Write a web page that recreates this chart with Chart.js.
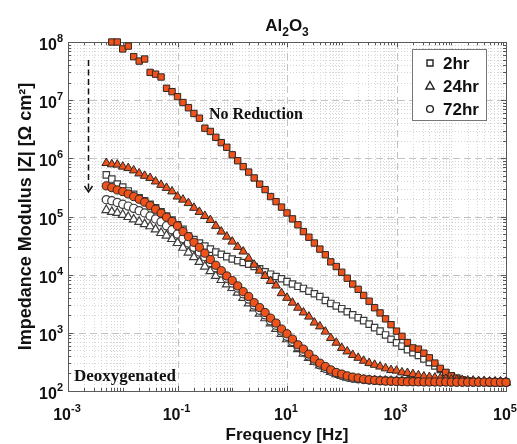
<!DOCTYPE html>
<html>
<head>
<meta charset="utf-8">
<script src="https://cdn.jsdelivr.net/npm/chart.js@4.4.0/dist/chart.umd.min.js"></script>
<style>
  html, body { margin: 0; padding: 0; background: #fff; }
  #wrap { width: 517px; height: 444px; }
</style>
</head>
<body>
<div id="wrap"><canvas id="eis" width="517" height="444"></canvas></div>
<script>
// Frequency sweep [Hz], 10 points per decade
const freqHz = [
  0.005012, 0.00631, 0.007943,
  0.01, 0.01259, 0.01585, 0.01995, 0.02512, 0.03162, 0.03981, 0.05012, 0.0631, 0.07943,
  0.1, 0.1259, 0.1585, 0.1995, 0.2512, 0.3162, 0.3981, 0.5012, 0.631, 0.7943,
  1, 1.259, 1.585, 1.995, 2.512, 3.162, 3.981, 5.012, 6.31, 7.943,
  10, 12.59, 15.85, 19.95, 25.12, 31.62, 39.81, 50.12, 63.1, 79.43,
  100, 125.9, 158.5, 199.5, 251.2, 316.2, 398.1, 501.2, 631, 794.3,
  1000, 1259, 1585, 1995, 2512, 3162, 3981, 5012, 6310, 7943,
  10000, 12590, 15850, 19950, 25120, 31620, 39810, 50120, 63100, 79430,
  100000
];

// |Z| [Ohm cm2] - No Reduction (filled orange)
const noRed2hr = [
  null, 1.0e8, 1.0e8, 7.6e7, 8.5e7, 5.6e7, 4.7e7, 5.1e7, 3.0e7, 2.8e7,
  2.5e7, 1.6e7, 1.4e7, 1.15e7, 9.1e6, 7.4e6, 5.9e6, 4.9e6, 3.3e6, 2.9e6,
  2.3e6, 1.86e6, 1.55e6, 1.15e6, 9.1e5, 7.2e5, 5.8e5, 4.6e5, 3.6e5, 2.9e5,
  2.2e5, 1.8e5, 1.45e5, 1.15e5, 9.1e4, 7.2e4, 5.5e4, 4.4e4, 3.5e4, 2.75e4,
  2.2e4, 1.66e4, 1.38e4, 1.1e4, 8.7e3, 6.9e3, 5.6e3, 4.4e3, 3.5e3, 2.7e3,
  2.2e3, 1.74e3, 1.38e3, 1.07e3, 870, 680, 550, 525, 447, 372,
  302, 245, 209, 182, 166, 155, 148, 145, 141, 141,
  140, 140, 140, 140
];
const noRed24hr = [
  8.3e5, 7.9e5, 7.8e5, 7.2e5, 6.8e5, 6.2e5, 5.5e5, 5.0e5, 4.6e5, 4.0e5,
  3.5e5, 3.1e5, 2.7e5, 2.2e5, 1.95e5, 1.7e5, 1.41e5, 1.2e5, 1.02e5, 8.7e4,
  6.9e4, 5.5e4, 4.5e4, 3.7e4, 3.0e4, 2.5e4, 1.9e4, 1.48e4, 1.17e4, 9.5e3,
  7.8e3, 6.5e3, 4.8e3, 4.0e3, 3.3e3, 2.7e3, 2.24e3, 1.9e3, 1.5e3, 1.29e3,
  1.05e3, 813, 676, 550, 479, 417, 372, 331, 302, 282,
  263, 245, 229, 224, 209, 204, 195, 186, 178, 174,
  170, 166, 162, 158, 155, 155, 151, 151, 148, 148,
  145, 145, 145, 141
];
const noRed72hr = [
  3.36e5, 3.14e5, 2.86e5, 2.68e5, 2.44e5, 2.2e5, 1.98e5, 1.76e5, 1.54e5, 1.33e5,
  1.14e5, 9.7e4, 8.2e4, 6.9e4, 5.5e4, 4.5e4, 3.6e4, 2.95e4, 2.34e4, 1.82e4,
  1.45e4, 1.17e4, 9.5e3, 7.9e3, 6.4e3, 5.1e3, 4.2e3, 3.3e3, 2.72e3, 2.23e3,
  1.79e3, 1.47e3, 1.16e3, 962, 780, 622, 525, 430, 353, 301,
  264, 231, 208, 195, 182, 173, 167, 160, 156, 153,
  150, 148, 147, 146, 145, 144, 144, 144, 143, 143,
  143, 143, 143, 142, 142, 142, 142, 142, 142, 142,
  142, 141, 141, 141
];

// |Z| [Ohm cm2] - Deoxygenated (open markers)
const deox2hr = [
  5.2e5, 4.4e5, 3.6e5, 3.2e5, 2.75e5, 2.4e5, 2.1e5, 1.86e5, 1.62e5, 1.41e5,
  1.2e5, 1.02e5, 8.7e4, 7.2e4, 6.0e4, 4.6e4, 4.0e4, 3.5e4, 3.1e4, 2.75e4,
  2.45e4, 2.24e4, 2.04e4, 1.86e4, 1.74e4, 1.62e4, 1.51e4, 1.38e4, 1.26e4, 1.12e4,
  1.02e4, 9.3e3, 8.5e3, 7.6e3, 6.9e3, 6.3e3, 5.8e3, 5.2e3, 4.7e3, 4.2e3,
  3.6e3, 3.2e3, 2.9e3, 2.6e3, 2.3e3, 2.04e3, 1.82e3, 1.62e3, 1.41e3, 1.23e3,
  1.07e3, 920, 776, 676, 589, 513, 457, 407, 355, 309,
  269, 234, 204, 182, 166, 155, 148, 145, 143, 141,
  141, 141, 141, 141
];
const deox24hr = [
  1.29e5, 1.2e5, 1.15e5, 1.07e5, 9.8e4, 8.9e4, 8.1e4, 7.4e4, 6.8e4, 6.0e4,
  5.2e4, 4.7e4, 4.1e4, 3.5e4, 2.9e4, 2.4e4, 2.0e4, 1.66e4, 1.38e4, 1.15e4,
  9.5e3, 8.1e3, 6.8e3, 5.9e3, 4.9e3, 4.0e3, 3.2e3, 2.63e3, 2.14e3, 1.78e3,
  1.45e3, 1.17e3, 955, 776, 646, 525, 437, 372, 316, 275,
  240, 214, 195, 182, 170, 162, 158, 155, 152, 151,
  150, 149, 148, 147, 147, 146, 146, 145, 145, 144,
  144, 144, 143, 143, 143, 142, 142, 142, 142, 141,
  141, 141, 141, 141
];
const deox72hr = [
  1.95e5, 1.86e5, 1.74e5, 1.62e5, 1.51e5, 1.38e5, 1.26e5, 1.15e5, 1.02e5, 9.1e4,
  8.1e4, 6.9e4, 5.9e4, 5.0e4, 4.2e4, 3.5e4, 2.95e4, 2.45e4, 2.04e4, 1.62e4,
  1.32e4, 1.07e4, 8.7e3, 7.2e3, 5.9e3, 4.7e3, 3.8e3, 3.0e3, 2.45e3, 2.04e3,
  1.62e3, 1.35e3, 1.07e3, 871, 708, 575, 479, 398, 331, 282,
  245, 219, 200, 186, 174, 166, 162, 158, 155, 152,
  151, 150, 149, 148, 147, 147, 146, 146, 145, 145,
  144, 144, 144, 143, 143, 143, 142, 142, 142, 142,
  141, 141, 141, 141
];

// axis ticks (decade exponents)
const xTickExp = [-3, -1, 1, 3, 5];
const yTickExp = [2, 3, 4, 5, 6, 7, 8];
const legendLabels = ['2hr', '24hr', '72hr'];

const ORANGE = '#f0521c';
const EDGE = '#2e2622';
const OPEN_EDGE = '#3a3a3a';
const SANS = 'Arial, "Liberation Sans", sans-serif';

function pts(vals) {
  const out = [];
  vals.forEach((v, i) => { if (v != null) out.push({ x: freqHz[i], y: v }); });
  return out;
}

function series(label, vals, style, filled) {
  const r = style === 'rect' ? 4.5 : style === 'triangle' ? 5 : 4.1;
  return {
    label, data: pts(vals), showLine: false, clip: false,
    pointStyle: style, pointRadius: r, pointHoverRadius: r,
    backgroundColor: filled ? ORANGE : '#ffffff',
    borderColor: filled ? EDGE : OPEN_EDGE,
    borderWidth: filled ? 1 : 1.2
  };
}

function supText(ctx, exp, x, y, align) {
  ctx.font = 'bold 16px ' + SANS;
  const wb = ctx.measureText('10').width;
  ctx.font = 'bold 11px ' + SANS;
  const we = ctx.measureText(String(exp)).width;
  const total = wb + we;
  const x0 = align === 'right' ? x - total : x - total / 2;
  ctx.textAlign = 'left';
  ctx.textBaseline = 'alphabetic';
  ctx.font = 'bold 16px ' + SANS;
  ctx.fillText('10', x0, y);
  ctx.font = 'bold 11px ' + SANS;
  ctx.fillText(String(exp), x0 + wb, y - 8);
}

function marker(ctx, style, x, y) {
  ctx.beginPath();
  if (style === 'rect') {
    ctx.rect(x - 3, y - 3, 6, 6);
  } else if (style === 'triangle') {
    ctx.moveTo(x, y - 4.5); ctx.lineTo(x + 4.2, y + 3); ctx.lineTo(x - 4.2, y + 3); ctx.closePath();
  } else {
    ctx.arc(x, y, 3.4, 0, Math.PI * 2);
  }
  ctx.fillStyle = '#fff';
  ctx.fill();
  ctx.stroke();
}

// MATLAB-like axes: grid, box, ticks, labels, annotations
const axesPlugin = {
  id: 'matlabAxes',
  beforeDatasetsDraw(chart) {
    const { ctx, chartArea: a, scales: { x, y } } = chart;
    ctx.save();
    ctx.fillStyle = '#fff';
    ctx.fillRect(a.left, a.top, a.right - a.left, a.bottom - a.top);

    // minor grid (dotted)
    ctx.strokeStyle = '#d6d6d6';
    ctx.lineWidth = 1;
    ctx.setLineDash([1, 2]);
    for (let d = -3; d < 5; d++) {
      for (let m = 1; m < 10; m++) {
        if (m === 1 && xTickExp.includes(d)) continue;
        const px = Math.round(x.getPixelForValue(m * Math.pow(10, d))) + 0.5;
        ctx.beginPath(); ctx.moveTo(px, a.top); ctx.lineTo(px, a.bottom); ctx.stroke();
      }
    }
    for (let d = 2; d < 8; d++) {
      for (let m = 2; m < 10; m++) {
        const py = Math.round(y.getPixelForValue(m * Math.pow(10, d))) + 0.5;
        ctx.beginPath(); ctx.moveTo(a.left, py); ctx.lineTo(a.right, py); ctx.stroke();
      }
    }

    // major grid (dashed)
    ctx.strokeStyle = '#c2c2c2';
    ctx.setLineDash([7, 4]);
    xTickExp.forEach(e => {
      const px = Math.round(x.getPixelForValue(Math.pow(10, e))) + 0.5;
      ctx.beginPath(); ctx.moveTo(px, a.top); ctx.lineTo(px, a.bottom); ctx.stroke();
    });
    yTickExp.forEach(e => {
      const py = Math.round(y.getPixelForValue(Math.pow(10, e))) + 0.5;
      ctx.beginPath(); ctx.moveTo(a.left, py); ctx.lineTo(a.right, py); ctx.stroke();
    });
    ctx.setLineDash([]);

    // ticks on all four sides
    ctx.strokeStyle = '#555';
    for (let d = -3; d < 5; d++) {
      for (let m = 1; m < 10; m++) {
        const px = Math.round(x.getPixelForValue(m * Math.pow(10, d))) + 0.5;
        const len = (m === 1 && xTickExp.includes(d)) ? 5 : 3;
        ctx.beginPath();
        ctx.moveTo(px, a.bottom); ctx.lineTo(px, a.bottom - len);
        ctx.moveTo(px, a.top); ctx.lineTo(px, a.top + len);
        ctx.stroke();
      }
    }
    for (let d = 2; d < 8; d++) {
      for (let m = 1; m < 10; m++) {
        const py = Math.round(y.getPixelForValue(m * Math.pow(10, d))) + 0.5;
        const len = m === 1 ? 5 : 3;
        ctx.beginPath();
        ctx.moveTo(a.left, py); ctx.lineTo(a.left + len, py);
        ctx.moveTo(a.right, py); ctx.lineTo(a.right - len, py);
        ctx.stroke();
      }
    }

    // box
    ctx.strokeStyle = '#5a5a5a';
    ctx.strokeRect(Math.round(a.left) + 0.5, Math.round(a.top) + 0.5,
      Math.round(a.right - a.left), Math.round(a.bottom - a.top));
    ctx.restore();
  },
  afterDatasetsDraw(chart) {
    const { ctx, chartArea: a, scales: { x, y } } = chart;
    ctx.save();
    ctx.fillStyle = '#111';

    // tick labels
    xTickExp.forEach(e => supText(ctx, e, x.getPixelForValue(Math.pow(10, e)) - 1, a.bottom + 29, 'center'));
    yTickExp.forEach(e => supText(ctx, e, a.left - 5, y.getPixelForValue(Math.pow(10, e)) + 8, 'right'));

    // axis titles
    ctx.font = 'bold 17px ' + SANS;
    ctx.textAlign = 'center';
    ctx.textBaseline = 'alphabetic';
    ctx.fillText('Frequency [Hz]', (a.left + a.right) / 2, 440);
    ctx.save();
    ctx.font = 'bold 18px ' + SANS;
    ctx.translate(31, (a.top + a.bottom) / 2);
    ctx.rotate(-Math.PI / 2);
    ctx.fillText('Impedance Modulus |Z| [\u03A9 cm\u00B2]', 0, 0);
    ctx.restore();

    // title Al2O3 with subscripts
    const big = 'bold 17px ' + SANS;
    const small = 'bold 12px ' + SANS;
    const parts = [['Al', big, 0], ['2', small, 5], ['O', big, 0], ['3', small, 5]];
    let tw = 0;
    parts.forEach(p => { ctx.font = p[1]; tw += ctx.measureText(p[0]).width; });
    let tx = (a.left + a.right) / 2 - tw / 2;
    ctx.textAlign = 'left';
    parts.forEach(p => {
      ctx.font = p[1];
      ctx.fillText(p[0], tx, 31 + p[2]);
      tx += ctx.measureText(p[0]).width;
    });

    // annotations
    ctx.font = 'bold 16px "Times New Roman", "Liberation Serif", serif';
    ctx.fillText('No Reduction', 209, 119);
    ctx.font = 'bold 17px "Times New Roman", "Liberation Serif", serif';
    ctx.fillText('Deoxygenated', 74, 381);

    // dashed arrow
    ctx.strokeStyle = '#111';
    ctx.lineWidth = 1.5;
    ctx.setLineDash([6, 3.5]);
    ctx.beginPath(); ctx.moveTo(88.5, 60); ctx.lineTo(88.5, 190); ctx.stroke();
    ctx.setLineDash([]);
    ctx.beginPath(); ctx.moveTo(84.5, 186); ctx.lineTo(88.5, 192); ctx.lineTo(92.5, 186); ctx.stroke();

    // legend box
    ctx.fillStyle = '#fff';
    ctx.fillRect(412.5, 49.5, 74, 71);
    ctx.strokeStyle = '#777';
    ctx.lineWidth = 1;
    ctx.strokeRect(412.5, 49.5, 74, 71);
    const styles = ['rect', 'triangle', 'circle'];
    ctx.strokeStyle = '#222';
    ctx.lineWidth = 1.4;
    legendLabels.forEach((lab, i) => {
      const ly = 63 + i * 23;
      marker(ctx, styles[i], 430, ly);
      ctx.fillStyle = '#111';
      ctx.font = 'bold 17px ' + SANS;
      ctx.textAlign = 'left';
      ctx.textBaseline = 'middle';
      ctx.fillText(lab, 443, ly + 1);
    });
    ctx.restore();
  }
};

new Chart(document.getElementById('eis'), {
  type: 'scatter',
  data: {
    datasets: [
      series('No Reduction 72hr', noRed72hr, 'circle', true),
      series('No Reduction 24hr', noRed24hr, 'triangle', true),
      series('No Reduction 2hr', noRed2hr, 'rect', true),
      series('Deoxygenated 72hr', deox72hr, 'circle', false),
      series('Deoxygenated 24hr', deox24hr, 'triangle', false),
      series('Deoxygenated 2hr', deox2hr, 'rect', false)
    ]
  },
  options: {
    responsive: false,
    animation: false,
    events: [],
    layout: { padding: { left: 68, top: 42, right: 11, bottom: 53 } },
    plugins: { legend: { display: false }, tooltip: { enabled: false } },
    scales: {
      x: { type: 'logarithmic', min: 1e-3, max: 1e5, display: false },
      y: { type: 'logarithmic', min: 1e2, max: 1e8, display: false }
    }
  },
  plugins: [axesPlugin]
});
</script>
</body>
</html>
